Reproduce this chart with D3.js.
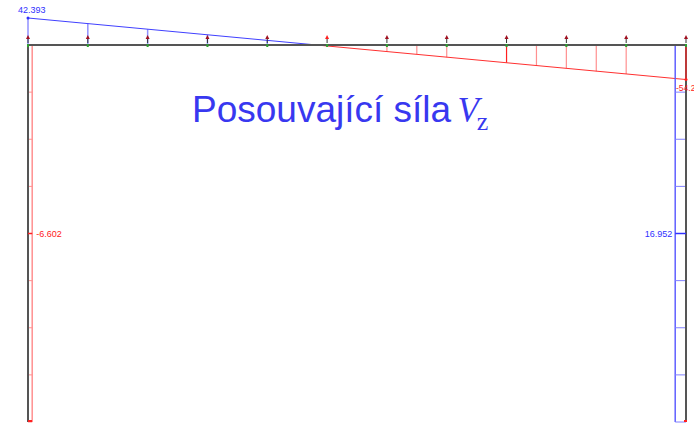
<!DOCTYPE html>
<html lang="cs">
<head>
<meta charset="UTF-8">
<title>Posouvající síla Vz</title>
<script src="https://d3js.org/d3.v7.min.js"></script>
<style>
  body { margin: 0; background: white; }
  svg { display: block; }
  .lbl { font-family: "Liberation Sans", Arial, sans-serif; font-size: 9px; }
</style>
</head>
<body>
<script>
    // beam stations 0..11, shear read at each node
    var stations = [0, 1, 2, 3, 4, 5, 6, 7, 8, 9, 10, 11];
    var beamShear = [42.393, 33.61, 24.83, 16.04, 7.26, -1.52, -10.30, -19.09, -27.87, -36.65, -45.44, -54.22];
    // stations where hatch verticals are drawn
    var hatchPos = [0, 1, 2, 3, 4];
    var hatchNeg = [6, 6.5, 7, 8, 8.5, 9, 9.5, 10, 11];
    // columns: 8 segments, constant shear
    var colSegments = [0, 1, 2, 3, 4, 5, 6, 7, 8];
    var leftColShear = -6.602;
    var rightColShear = 16.952;

    var width = 694, height = 424;
    var svg = d3.select("body").append("svg").attr("width", width).attr("height", height);

    var x = d3.scaleLinear().domain([0, 11]).range([28, 686]);
    var yCol = d3.scaleLinear().domain([0, 8]).range([45, 422]);
    var v = d3.scaleLinear().domain([0, 42.393]).range([0, 27]);   // shear -> px
    var beamY = 45;
    function shearAt(s) {
        var i = Math.min(Math.floor(s), 10), t = s - i;
        return beamShear[i] + (beamShear[i + 1] - beamShear[i]) * t;
    }

    // hatch verticals
    svg.selectAll(".hp").data(hatchPos).enter().append("line")
        .attr("x1", function (d) { return x(d); }).attr("x2", function (d) { return x(d); })
        .attr("y1", beamY).attr("y2", function (d) { return beamY - v(shearAt(d)); })
        .style("stroke", "#9090ff").style("stroke-width", 1.5);
    svg.selectAll(".hn").data(hatchNeg).enter().append("line")
        .attr("x1", function (d) { return x(d); }).attr("x2", function (d) { return x(d); })
        .attr("y1", beamY).attr("y2", function (d) { return beamY - v(shearAt(d)); })
        .style("stroke", function (d) { return d == 8 ? "#ff2020" : "#ff9090"; })
        .style("stroke-width", function (d) { return d == 11 ? 2 : 1.2; });

    // beam shear line, split at zero
    var zero = 42.393 / (42.393 + 54.22) * 11;
    svg.append("line").attr("x1", x(0)).attr("y1", beamY - v(beamShear[0]))
        .attr("x2", x(zero)).attr("y2", beamY)
        .style("stroke", "#4040ff").style("stroke-width", 1);
    svg.append("line").attr("x1", x(zero)).attr("y1", beamY)
        .attr("x2", x(11)).attr("y2", beamY - v(beamShear[11]))
        .style("stroke", "#ff3030").style("stroke-width", 1);

    // left column diagram
    var lx = x(0) - v(leftColShear);
    svg.append("line").attr("x1", lx).attr("x2", lx).attr("y1", yCol(0)).attr("y2", yCol(8))
        .style("stroke", "#ff9090").style("stroke-width", 1.5);
    svg.selectAll(".lt").data(colSegments).enter().append("line")
        .attr("x1", x(0)).attr("x2", lx)
        .attr("y1", function (d) { return yCol(d); }).attr("y2", function (d) { return yCol(d); })
        .style("stroke", "#ff9090").style("stroke-width", 1);

    // right column diagram
    var rx = x(11) - v(rightColShear);
    svg.append("line").attr("x1", rx).attr("x2", rx).attr("y1", yCol(0)).attr("y2", yCol(8))
        .style("stroke", "#6060ff").style("stroke-width", 1.5);
    svg.selectAll(".rt").data(colSegments).enter().append("line")
        .attr("x1", rx).attr("x2", x(11))
        .attr("y1", function (d) { return yCol(d); }).attr("y2", function (d) { return yCol(d); })
        .style("stroke", "#8080ff").style("stroke-width", 1);

    // structure
    svg.append("line").attr("x1", x(0)).attr("x2", x(11)).attr("y1", beamY).attr("y2", beamY)
        .style("stroke", "#555").style("stroke-width", 2);
    svg.append("line").attr("x1", x(0)).attr("x2", x(0)).attr("y1", beamY).attr("y2", yCol(8))
        .style("stroke", "#555").style("stroke-width", 2);
    svg.append("line").attr("x1", x(11)).attr("x2", x(11)).attr("y1", beamY).attr("y2", yCol(8))
        .style("stroke", "#555").style("stroke-width", 2);
    svg.append("line").attr("x1", x(11)).attr("x2", x(11)).attr("y1", beamY).attr("y2", beamY - v(beamShear[11]))
        .style("stroke", "#e03030").style("stroke-width", 1.5);

    // node markers
    svg.selectAll(".gn").data(stations).enter().append("rect")
        .attr("x", function (d) { return x(d) - 1; }).attr("y", beamY - 1)
        .attr("width", 2).attr("height", 3).style("fill", "#30a030");
    var arr = svg.selectAll(".ar").data(stations).enter().append("g")
        .attr("transform", function (d) { return "translate(" + x(d) + "," + (beamY - 9) + ")"; });
    arr.append("line").attr("x1", 0).attr("x2", 0).attr("y1", 1).attr("y2", 7)
        .style("stroke", "#333").style("stroke-width", 1);
    arr.append("path").attr("d", "M-2,3 L0,-1 L2,3 Z")
        .style("fill", function (d) { return d == 5 ? "#ff2020" : "#a01020"; });

    // end markers
    svg.append("circle").attr("cx", x(0)).attr("cy", beamY - v(beamShear[0])).attr("r", 1.5).style("fill", "#3030ff");
    svg.append("circle").attr("cx", x(11)).attr("cy", beamY - v(beamShear[11])).attr("r", 1.5).style("fill", "#ff2020");
    svg.append("line").attr("x1", x(0)).attr("x2", lx).attr("y1", yCol(4)).attr("y2", yCol(4))
        .style("stroke", "#ff2020").style("stroke-width", 1.5);
    svg.append("line").attr("x1", rx).attr("x2", x(11)).attr("y1", yCol(4)).attr("y2", yCol(4))
        .style("stroke", "#3030ff").style("stroke-width", 1.5);
    svg.append("rect").attr("x", x(0)).attr("y", yCol(8) - 2).attr("width", 4).attr("height", 2).style("fill", "#ff2020");
    svg.append("rect").attr("x", x(11) - 2).attr("y", yCol(8) - 2).attr("width", 3).attr("height", 2).style("fill", "#ff2020");

    // value labels
    svg.append("text").attr("class", "lbl").attr("x", x(0) - 10).attr("y", 13)
        .style("fill", "#3030ff").text(d3.format(".3f")(beamShear[0]));
    svg.append("text").attr("class", "lbl").attr("x", x(11) - 10).attr("y", 91)
        .style("font-size", "8.5px").style("fill", "#ff2020").text(beamShear[11].toString());
    svg.append("text").attr("class", "lbl").attr("x", lx + 4).attr("y", yCol(4) + 3)
        .style("fill", "#ff2020").text(leftColShear.toString());
    svg.append("text").attr("class", "lbl").attr("x", rx - 3).attr("y", yCol(4) + 3)
        .attr("text-anchor", "end").style("fill", "#3030ff").text(rightColShear.toString());

    // title
    var title = svg.append("text").attr("x", 192).attr("y", 122)
        .style("font-family", "'Liberation Sans', Arial, sans-serif").style("font-size", "37px")
        .style("fill", "#3838f0");
    title.append("tspan").text("Posouvající síla ");
    title.append("tspan").attr("dx", -4).style("font-family", "'Liberation Serif', 'Times New Roman', serif")
        .style("font-style", "italic").style("font-size", "35px").text("V");
    title.append("tspan").attr("dx", -2).attr("dy", 8).style("font-family", "'Liberation Serif', 'Times New Roman', serif")
        .style("font-size", "26px").text("z");
</script>
</body>
</html>
